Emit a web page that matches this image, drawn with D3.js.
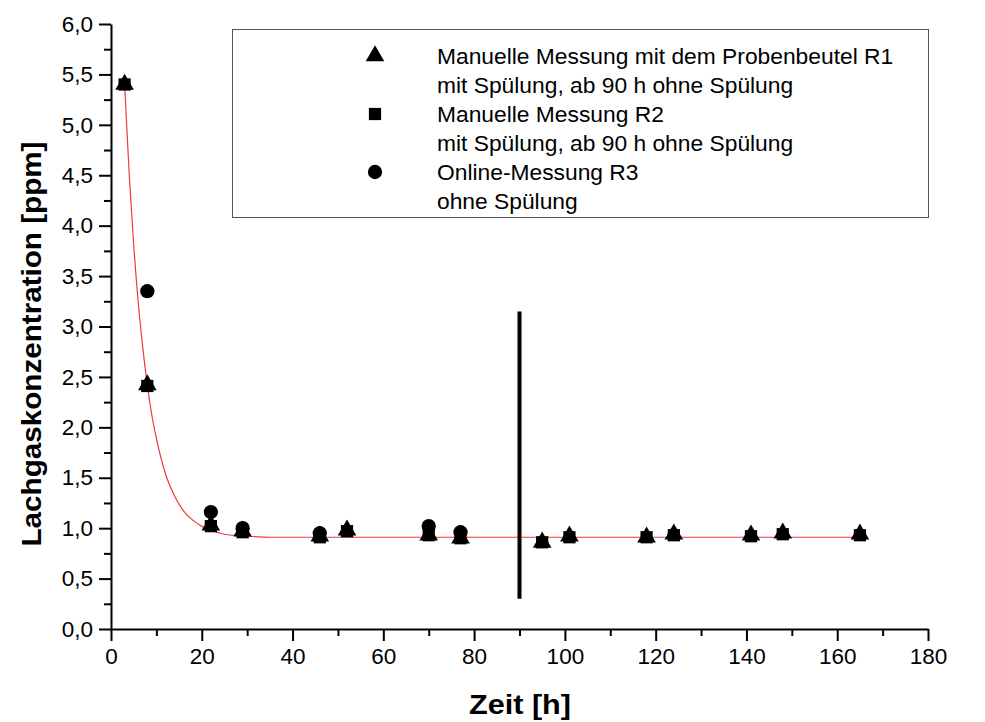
<!DOCTYPE html>
<html>
<head>
<meta charset="utf-8">
<script src="https://cdn.jsdelivr.net/npm/d3@7/dist/d3.min.js"></script>
<style>
  html, body { margin: 0; padding: 0; background: #fff; }
  svg { display: block; font-family: Arial, "Liberation Sans", sans-serif; }
</style>
</head>
<body>
<svg id="chart" width="985" height="722"></svg>
<script>
// Measurement times [h] and concentrations [ppm]
const times = [3, 8, 22, 29, 46, 52, 70, 77, 95, 101, 118, 124, 141, 148, 165];
const r1Values = [5.40, 2.42, 1.03, 0.97, 0.92, 0.98, 0.93, 0.90, 0.86, 0.92, 0.91, 0.94, 0.93, 0.95, 0.94];
const r2Values = [5.40, 2.41, 1.02, 0.96, 0.91, 0.97, 0.93, 0.90, 0.86, 0.91, 0.91, 0.93, 0.92, 0.94, 0.93];
const r3Times = [8, 22, 29, 46, 70, 77];
const r3Values = [3.35, 1.16, 1.00, 0.95, 1.02, 0.96];

// Fitted decay curve
const fitTimes = [3, 4, 5, 6, 7, 8, 9, 10, 12, 14, 16, 18, 20, 22, 25, 30, 35, 165];
const fitValues = [5.40, 4.52, 3.81, 3.24, 2.79, 2.42, 2.12, 1.89, 1.54, 1.32, 1.17, 1.08, 1.02, 0.98, 0.94, 0.92, 0.91, 0.91];

// Flushing stopped at 90 h
const flushStop = 90;
const flushMarkRange = [0.3, 3.15];

const xTicks = [0, 20, 40, 60, 80, 100, 120, 140, 160, 180];
const yTicks = [0, 0.5, 1, 1.5, 2, 2.5, 3, 3.5, 4, 4.5, 5, 5.5, 6];

const legendItems = [
  { symbol: "triangle", lines: ["Manuelle Messung mit dem Probenbeutel R1", "mit Spülung, ab 90 h ohne Spülung"] },
  { symbol: "square", lines: ["Manuelle Messung R2", "mit Spülung, ab 90 h ohne Spülung"] },
  { symbol: "circle", lines: ["Online-Messung R3", "ohne Spülung"] }
];

const svg = d3.select("#chart");
const x = d3.scaleLinear().domain([0, 180]).range([111, 928]);
const y = d3.scaleLinear().domain([0, 6]).range([629, 24]);

const fmt = d => d3.format(".1f")(d).replace(".", ",");

// Minor ticks
const xMinor = d3.range(10, 180, 20);
const yMinor = d3.range(0.25, 6, 0.5);

const gx = svg.append("g").attr("transform", `translate(0,${y(0)})`);
gx.call(d3.axisBottom(x).tickValues(xMinor).tickSize(7).tickSizeOuter(0).tickFormat(""));
gx.call(g => g.select(".domain").remove());
const gx2 = svg.append("g").attr("transform", `translate(0,${y(0)})`);
gx2.call(d3.axisBottom(x).tickValues(xTicks).tickSize(12).tickSizeOuter(0).tickPadding(7).tickFormat(d3.format("d")));

const gy = svg.append("g").attr("transform", `translate(${x(0)},0)`);
gy.call(d3.axisLeft(y).tickValues(yMinor).tickSize(7).tickSizeOuter(0).tickFormat(""));
gy.call(g => g.select(".domain").remove());
const gy2 = svg.append("g").attr("transform", `translate(${x(0)},0)`);
gy2.call(d3.axisLeft(y).tickValues(yTicks).tickSize(12).tickSizeOuter(0).tickPadding(6).tickFormat(fmt));

svg.selectAll(".domain, .tick line").attr("stroke", "#000").attr("stroke-width", 2);
svg.selectAll(".tick text").attr("fill", "#000").attr("font-size", 22.5)
  .attr("font-family", "Arial, 'Liberation Sans', sans-serif");

// Axis titles
svg.append("text")
  .attr("x", 520).attr("y", 714)
  .attr("text-anchor", "middle")
  .attr("font-size", 28).attr("font-weight", "bold")
  .attr("textLength", 102).attr("lengthAdjust", "spacingAndGlyphs")
  .text("Zeit [h]");

svg.append("text")
  .attr("transform", "translate(41,344) rotate(-90)")
  .attr("text-anchor", "middle")
  .attr("font-size", 28).attr("font-weight", "bold")
  .attr("textLength", 405).attr("lengthAdjust", "spacingAndGlyphs")
  .text("Lachgaskonzentration [ppm]");

// Fitted curve
svg.append("path")
  .datum(fitTimes.map((t, i) => [t, fitValues[i]]))
  .attr("fill", "none")
  .attr("stroke", "#f03a3a")
  .attr("stroke-width", 1.2)
  .attr("d", d3.line().x(d => x(d[0])).y(d => y(d[1])).curve(d3.curveMonotoneX));

// Vertical line at the end of flushing
svg.append("line")
  .attr("x1", x(flushStop)).attr("x2", x(flushStop))
  .attr("y1", y(flushMarkRange[0])).attr("y2", y(flushMarkRange[1]))
  .attr("stroke", "#000").attr("stroke-width", 4);

// Symbols
const symbolSize = { triangle: 150, square: 150, circle: 160 };
const symbolType = { triangle: d3.symbolTriangle, square: d3.symbolSquare, circle: d3.symbolCircle };
function drawSeries(ts, vs, kind) {
  svg.append("g").selectAll("path")
    .data(ts.map((t, i) => [t, vs[i]]))
    .join("path")
    .attr("transform", d => `translate(${x(d[0])},${y(d[1])})`)
    .attr("d", d3.symbol().type(symbolType[kind]).size(symbolSize[kind]))
    .attr("fill", "#000");
}
drawSeries(times, r1Values, "triangle");
drawSeries(times, r2Values, "square");
drawSeries(r3Times, r3Values, "circle");

// Legend
const legend = svg.append("g");
legend.append("rect")
  .attr("x", 232.5).attr("y", 29.5).attr("width", 696).attr("height", 188)
  .attr("fill", "none").attr("stroke", "#555").attr("stroke-width", 1);
const lineH = 29;
legendItems.forEach((item, i) => {
  const yc = 56 + i * 2 * lineH;
  legend.append("path")
    .attr("transform", `translate(375,${yc})`)
    .attr("d", d3.symbol().type(symbolType[item.symbol]).size(symbolSize[item.symbol]))
    .attr("fill", "#000");
  item.lines.forEach((ln, j) => {
    legend.append("text")
      .attr("x", 437).attr("y", yc + j * lineH + 8)
      .attr("font-size", 22.8)
      .attr("fill", "#000")
      .text(ln);
  });
});
</script>
</body>
</html>
